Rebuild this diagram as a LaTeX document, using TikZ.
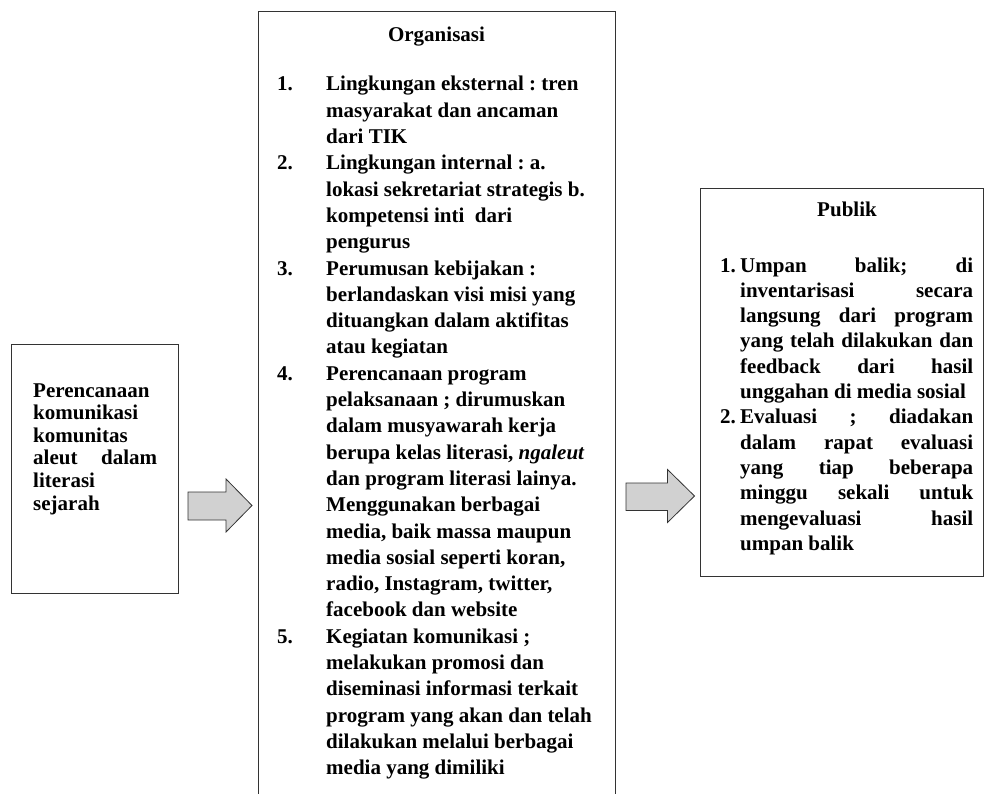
\documentclass[tikz,border=0pt]{standalone}
\usepackage{fontspec}
\setmainfont{Liberation Serif}
\frenchspacing
\begin{document}
\begin{tikzpicture}[x=1pt,y=-1pt,
  boxline/.style={draw=black!80,line width=1pt},
  blockarrow/.style={draw=black!80,line width=0.8pt,fill=black!18,line join=miter},
  txt/.style={inner sep=0pt,anchor=base west,align=left},
  ttl/.style={inner sep=0pt,anchor=base,font=\fontsize{21}{25}\selectfont\bfseries}]
\useasboundingbox (0,0) rectangle (984,794);
% boxes
\node[boxline,anchor=north west,minimum width=167pt,minimum height=249pt,inner sep=0pt] (planbox) at (11,344) {};
\coordinate (orgNW) at (258,12);
\coordinate (orgNE) at (615,12);
\coordinate (orgSW) at (258,794);
\coordinate (orgSE) at (615,794);
\draw[boxline] (orgSW) -- (orgNW) -- (orgNE) -- (orgSE);
\node[boxline,anchor=north west,minimum width=283pt,minimum height=388pt,inner sep=0pt] (pubbox) at (700,188) {};
% block arrows
\draw[blockarrow] (188,492) -- (226,492) -- (226,479) -- (252,505.5) -- (226,532) -- (226,520) -- (188,520) -- cycle;
\draw[blockarrow] (626,483) -- (667.5,483) -- (667.5,469.5) -- (694.5,496) -- (667.5,522.5) -- (667.5,510.5) -- (626,510.5) -- cycle;
% left text
\node[txt,font=\fontsize{21}{22.6}\selectfont\bfseries] (plantext) at (33,397) {%
\begin{tabular}[t]{@{}l@{}}
Perencanaan\\
komunikasi\\
komunitas\\
\makebox[124pt][s]{aleut dalam}\\
literasi\\
sejarah
\end{tabular}};
% middle
\node[ttl] (orgtitle) at (436.5,42) {Organisasi};
\node[txt,font=\fontsize{21}{26.3}\selectfont\bfseries] (orgtext) at (277,91) {%
\begin{tabular}[t]{@{}l@{}l@{}}
\makebox[49pt][l]{1.} & Lingkungan eksternal : tren\\
 & masyarakat dan ancaman\\
 & dari TIK\\
\makebox[49pt][l]{2.} & Lingkungan internal : a.\\
 & lokasi sekretariat strategis b.\\
 & kompetensi inti\ \ dari\\
 & pengurus\\
\makebox[49pt][l]{3.} & Perumusan kebijakan :\\
 & berlandaskan visi misi yang\\
 & dituangkan dalam aktifitas\\
 & atau kegiatan\\
\makebox[49pt][l]{4.} & Perencanaan program\\
 & pelaksanaan ; dirumuskan\\
 & dalam musyawarah kerja\\
 & berupa kelas literasi, \textit{ngaleut}\\
 & dan program literasi lainya.\\
 & Menggunakan berbagai\\
 & media, baik massa maupun\\
 & media sosial seperti koran,\\
 & radio, Instagram, twitter,\\
 & facebook dan website\\
\makebox[49pt][l]{5.} & Kegiatan komunikasi ;\\
 & melakukan promosi dan\\
 & diseminasi informasi terkait\\
 & program yang akan dan telah\\
 & dilakukan melalui berbagai\\
 & media yang dimiliki
\end{tabular}};
% right
\node[ttl] (pubtitle) at (847,217) {Publik};
\node[txt,font=\fontsize{21}{25.3}\selectfont\bfseries] (pubtext) at (720,272) {%
\begin{tabular}[t]{@{}l@{}l@{}}
\makebox[20pt][l]{1.} & \makebox[233pt][s]{Umpan balik; di}\\
 & \makebox[233pt][s]{inventarisasi secara}\\
 & \makebox[233pt][s]{langsung dari program}\\
 & \makebox[233pt][s]{yang telah dilakukan dan}\\
 & \makebox[233pt][s]{feedback dari hasil}\\
 & unggahan di media sosial\\
\makebox[20pt][l]{2.} & \makebox[233pt][s]{Evaluasi ; diadakan}\\
 & \makebox[233pt][s]{dalam rapat evaluasi}\\
 & \makebox[233pt][s]{yang tiap beberapa}\\
 & \makebox[233pt][s]{minggu sekali untuk}\\
 & \makebox[233pt][s]{mengevaluasi hasil}\\
 & umpan balik
\end{tabular}};
\end{tikzpicture}
\end{document}
